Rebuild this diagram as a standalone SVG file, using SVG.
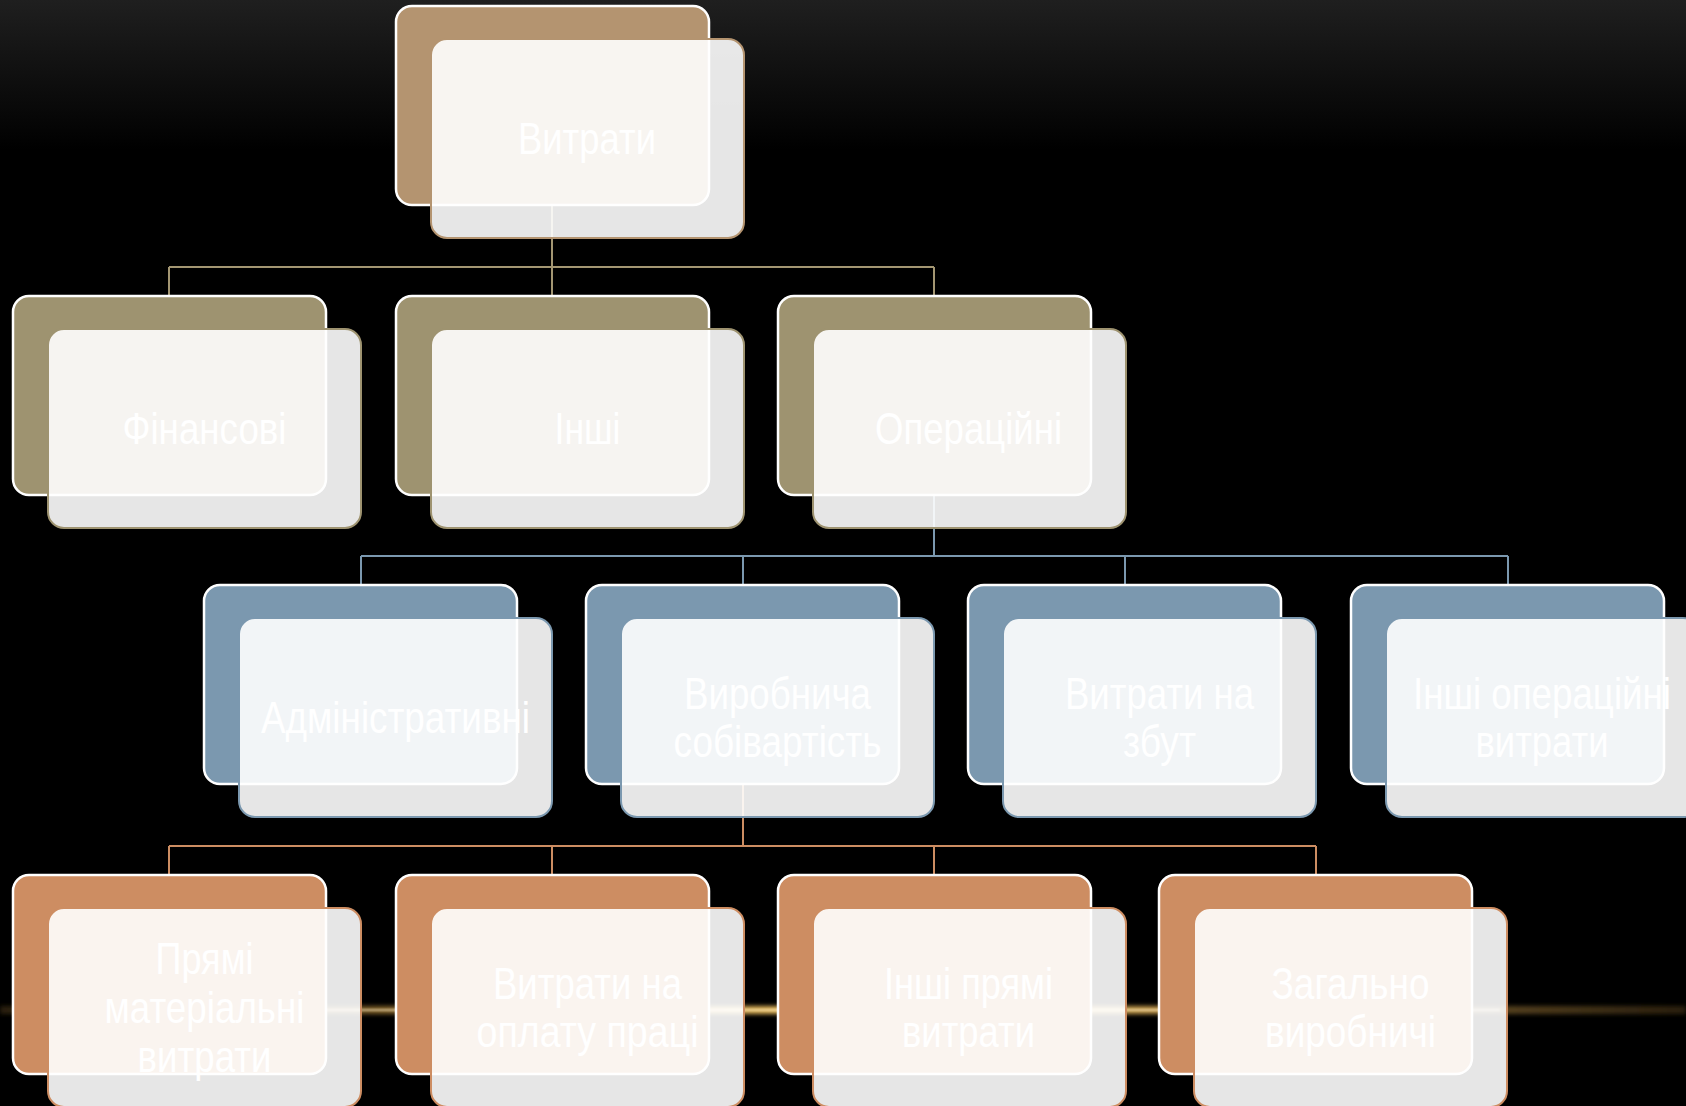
<svg xmlns="http://www.w3.org/2000/svg" width="1686" height="1106" viewBox="0 0 1686 1106">
<defs>
<linearGradient id="bgTop" x1="0" y1="0" x2="0" y2="1">
<stop offset="0" stop-color="#1f1f1f"/>
<stop offset="1" stop-color="#000000"/>
</linearGradient>
<linearGradient id="streak" x1="0" y1="0" x2="1" y2="0">
<stop offset="0" stop-color="#7a5a28" stop-opacity="0.35"/>
<stop offset="0.3" stop-color="#c89840" stop-opacity="0.8"/>
<stop offset="0.5" stop-color="#f5c865" stop-opacity="1"/>
<stop offset="0.72" stop-color="#d8a850" stop-opacity="0.85"/>
<stop offset="1" stop-color="#7a5a28" stop-opacity="0.35"/>
</linearGradient>
<radialGradient id="glow" cx="0.5" cy="1" r="0.5" gradientTransform="translate(0,0.5) scale(1,0.5) translate(0,0)">
<stop offset="0" stop-color="#505050" stop-opacity="0.9"/>
<stop offset="1" stop-color="#000000" stop-opacity="0"/>
</radialGradient>
<filter id="blur2" x="-5%" y="-200%" width="110%" height="500%"><feGaussianBlur stdDeviation="2"/></filter>
<filter id="blur1" x="-5%" y="-200%" width="110%" height="500%"><feGaussianBlur stdDeviation="0.8"/></filter>
</defs>
<style>
.back{stroke:#ffffff;stroke-width:2.5}
.front{fill:#ffffff;fill-opacity:0.9;stroke-width:2}
.c1{fill:#b49470}
.c2{fill:#9e9370}
.c3{fill:#7b98af}
.c4{fill:#cd8d62}
.f1{stroke:#b49470}
.f2{stroke:#9e9370}
.f3{stroke:#7b98af}
.f4{stroke:#cd8d62}
.lbl{font-family:"Liberation Sans Narrow","Arial Narrow","Liberation Sans",Arial,sans-serif;font-size:44px;fill:#ffffff;text-anchor:middle}
.conn{fill:none;stroke-width:2}
</style>
<rect x="0" y="0" width="1686" height="1106" fill="#000000"/>
<rect x="0" y="0" width="1686" height="150" fill="url(#bgTop)"/>
<!-- bottom light streak -->
<g id="streak-bg">
<ellipse cx="850" cy="1010" rx="650" ry="80" fill="url(#glow)"/>
<rect x="0" y="1010" width="1686" height="96" fill="#000000"/>
<rect x="0" y="1006" width="1686" height="8" fill="url(#streak)" filter="url(#blur2)"/>
<rect x="200" y="1009" width="1300" height="2" fill="#fff0c8" opacity="0.6" filter="url(#blur1)"/>
</g>
<g id="connectors" class="conn">
<path d="M552 205 V267 M169 267 H934 M169 267 V296 M552 267 V296 M934 267 V296" stroke="#a39672"/>
<path d="M934 495 V556 M361 556 H1508 M361 556 V585 M743 556 V585 M1125 556 V585 M1508 556 V585" stroke="#7b98af"/>
<path d="M743 784 V846 M169 846 H1316 M169 846 V875 M552 846 V875 M934 846 V875 M1316 846 V875" stroke="#cd8d62"/>
</g>
<g id="n-vytraty">
<rect class="back c1" x="396" y="6" width="313" height="199" rx="16"/>
<rect class="front f1" x="431" y="39" width="313" height="199" rx="16"/>
<text class="lbl" x="587" y="154" textLength="138" lengthAdjust="spacingAndGlyphs">Витрати</text>
</g>
<g id="n-finansovi">
<rect class="back c2" x="13" y="296" width="313" height="199" rx="16"/>
<rect class="front f2" x="48" y="329" width="313" height="199" rx="16"/>
<text class="lbl" x="204.5" y="444" textLength="164" lengthAdjust="spacingAndGlyphs">Фінансові</text>
</g>
<g id="n-inshi">
<rect class="back c2" x="396" y="296" width="313" height="199" rx="16"/>
<rect class="front f2" x="431" y="329" width="313" height="199" rx="16"/>
<text class="lbl" x="587.5" y="444" textLength="66" lengthAdjust="spacingAndGlyphs">Інші</text>
</g>
<g id="n-operatsiini">
<rect class="back c2" x="778" y="296" width="313" height="199" rx="16"/>
<rect class="front f2" x="813" y="329" width="313" height="199" rx="16"/>
<text class="lbl" x="968.5" y="444" textLength="187" lengthAdjust="spacingAndGlyphs">Операційні</text>
</g>
<g id="n-administratyvni">
<rect class="back c3" x="204" y="585" width="313" height="199" rx="16"/>
<rect class="front f3" x="239" y="618" width="313" height="199" rx="16"/>
<text class="lbl" x="395.5" y="733" textLength="269" lengthAdjust="spacingAndGlyphs">Адміністративні</text>
</g>
<g id="n-vyrobnycha">
<rect class="back c3" x="586" y="585" width="313" height="199" rx="16"/>
<rect class="front f3" x="621" y="618" width="313" height="199" rx="16"/>
<text class="lbl" x="777.5" y="709" textLength="187" lengthAdjust="spacingAndGlyphs">Виробнича</text>
<text class="lbl" x="777.5" y="757" textLength="208" lengthAdjust="spacingAndGlyphs">собівартість</text>
</g>
<g id="n-zbut">
<rect class="back c3" x="968" y="585" width="313" height="199" rx="16"/>
<rect class="front f3" x="1003" y="618" width="313" height="199" rx="16"/>
<text class="lbl" x="1159.5" y="709" textLength="189" lengthAdjust="spacingAndGlyphs">Витрати на</text>
<text class="lbl" x="1159.5" y="757" textLength="73" lengthAdjust="spacingAndGlyphs">збут</text>
</g>
<g id="n-inshi-operatsiini">
<rect class="back c3" x="1351" y="585" width="313" height="199" rx="16"/>
<rect class="front f3" x="1386" y="618" width="313" height="199" rx="16"/>
<text class="lbl" x="1542" y="709" textLength="258" lengthAdjust="spacingAndGlyphs">Інші операційні</text>
<text class="lbl" x="1542" y="757" textLength="133" lengthAdjust="spacingAndGlyphs">витрати</text>
</g>
<g id="n-priami-materialni">
<rect class="back c4" x="13" y="875" width="313" height="199" rx="16"/>
<rect class="front f4" x="48" y="908" width="313" height="199" rx="16"/>
<text class="lbl" x="204.5" y="974" textLength="98" lengthAdjust="spacingAndGlyphs">Прямі</text>
<text class="lbl" x="204.5" y="1023" textLength="200" lengthAdjust="spacingAndGlyphs">матеріальні</text>
<text class="lbl" x="204.5" y="1072" textLength="134" lengthAdjust="spacingAndGlyphs">витрати</text>
</g>
<g id="n-oplata">
<rect class="back c4" x="396" y="875" width="313" height="199" rx="16"/>
<rect class="front f4" x="431" y="908" width="313" height="199" rx="16"/>
<text class="lbl" x="587.5" y="999" textLength="189" lengthAdjust="spacingAndGlyphs">Витрати на</text>
<text class="lbl" x="587.5" y="1047" textLength="222" lengthAdjust="spacingAndGlyphs">оплату праці</text>
</g>
<g id="n-inshi-priami">
<rect class="back c4" x="778" y="875" width="313" height="199" rx="16"/>
<rect class="front f4" x="813" y="908" width="313" height="199" rx="16"/>
<text class="lbl" x="968.5" y="999" textLength="169" lengthAdjust="spacingAndGlyphs">Інші прямі</text>
<text class="lbl" x="968.5" y="1047" textLength="133" lengthAdjust="spacingAndGlyphs">витрати</text>
</g>
<g id="n-zagalno">
<rect class="back c4" x="1159" y="875" width="313" height="199" rx="16"/>
<rect class="front f4" x="1194" y="908" width="313" height="199" rx="16"/>
<text class="lbl" x="1350.5" y="999" textLength="158" lengthAdjust="spacingAndGlyphs">Загально</text>
<text class="lbl" x="1350.5" y="1047" textLength="171" lengthAdjust="spacingAndGlyphs">виробничі</text>
</g>
</svg>
